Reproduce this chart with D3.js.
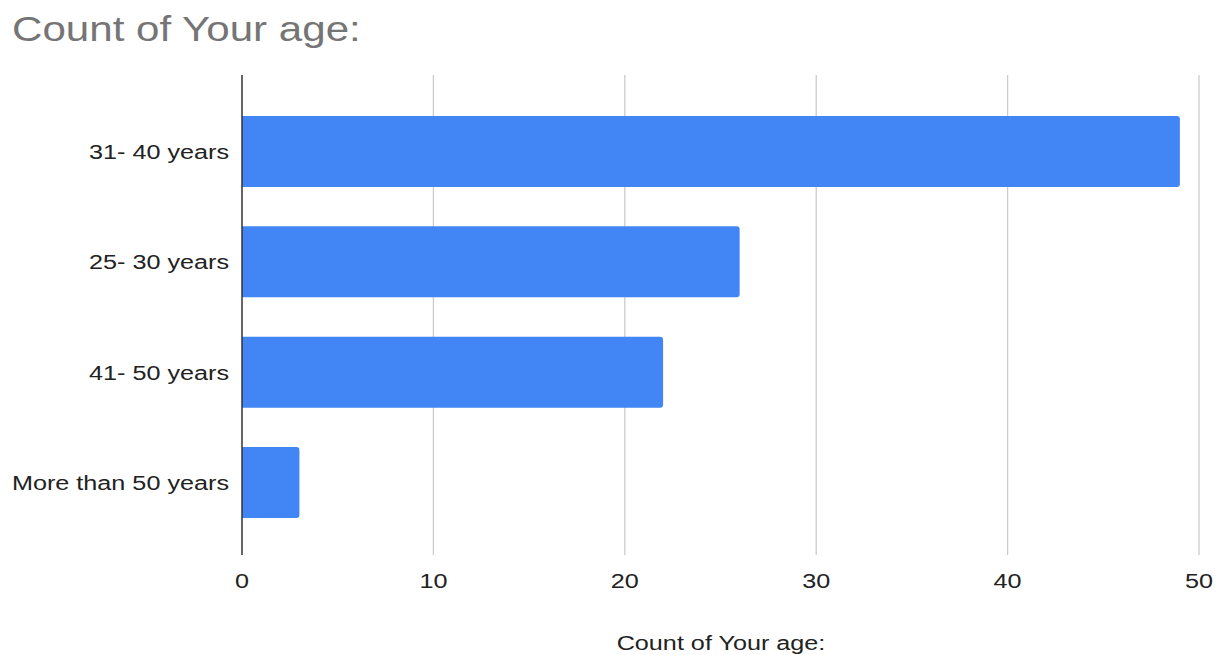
<!DOCTYPE html>
<html><head><meta charset="utf-8">
<script src="https://cdn.jsdelivr.net/npm/d3@7"></script>
<style>body{margin:0;background:#fff;}svg{display:block;}</style>
</head><body>
<svg id="c" width="1217" height="655"></svg>
<script>
const categories = ["31- 40 years", "25- 30 years", "41- 50 years", "More than 50 years"];
const values = [49, 26, 22, 3];
const xTicks = [0, 10, 20, 30, 40, 50];
const title = "Count of Your age:";
const xTitle = "Count of Your age:";

const svg = d3.select("#c");
const m = {left: 242, right: 1199, top: 75, bottom: 555};
const x = d3.scaleLinear().domain([0, 50]).range([m.left, m.right]);
const y = d3.scaleBand().domain(categories).range([m.top + 2, m.bottom + 2]).paddingInner(0.356).paddingOuter(0.354);
const font = "Arial, 'Liberation Sans', sans-serif";
const SX = 1.2;

svg.append("text").attr("transform", "translate(12,41) scale(1.17,1)").attr("fill", "#757575")
  .attr("font-family", font).attr("font-size", 36).text(title);

svg.append("g").selectAll("line").data(xTicks.filter(d => d > 0)).join("line")
  .attr("x1", d => x(d)).attr("x2", d => x(d)).attr("y1", m.top).attr("y2", m.bottom)
  .attr("stroke", "#cccccc").attr("stroke-width", 1.3);

const r = 3;
svg.append("g").selectAll("path").data(categories).join("path")
  .attr("fill", "#4285f4")
  .attr("d", (c, i) => {
    const x0 = x(0), x1 = x(values[i]), y0 = y(c), h = y.bandwidth();
    return `M${x0},${y0}H${x1 - r}Q${x1},${y0} ${x1},${y0 + r}V${y0 + h - r}Q${x1},${y0 + h} ${x1 - r},${y0 + h}H${x0}Z`;
  });

svg.append("line").attr("x1", x(0)).attr("x2", x(0)).attr("y1", m.top).attr("y2", m.bottom)
  .attr("stroke", "#333").attr("stroke-width", 1.5);

svg.append("g").selectAll("text").data(categories).join("text")
  .attr("transform", c => `translate(229,${y(c) + y.bandwidth() / 2}) scale(${SX},1)`).attr("dy", "0.35em")
  .attr("text-anchor", "end").attr("fill", "#222").attr("font-family", font).attr("font-size", 21)
  .text(d => d);

svg.append("g").selectAll("text").data(xTicks).join("text")
  .attr("transform", d => `translate(${x(d)},588) scale(${SX},1)`).attr("text-anchor", "middle")
  .attr("fill", "#222").attr("font-family", font).attr("font-size", 21).text(d => d);

svg.append("text").attr("transform", `translate(721,650) scale(${SX},1)`).attr("text-anchor", "middle")
  .attr("fill", "#222").attr("font-family", font).attr("font-size", 21).text(xTitle);
</script>
</body></html>
